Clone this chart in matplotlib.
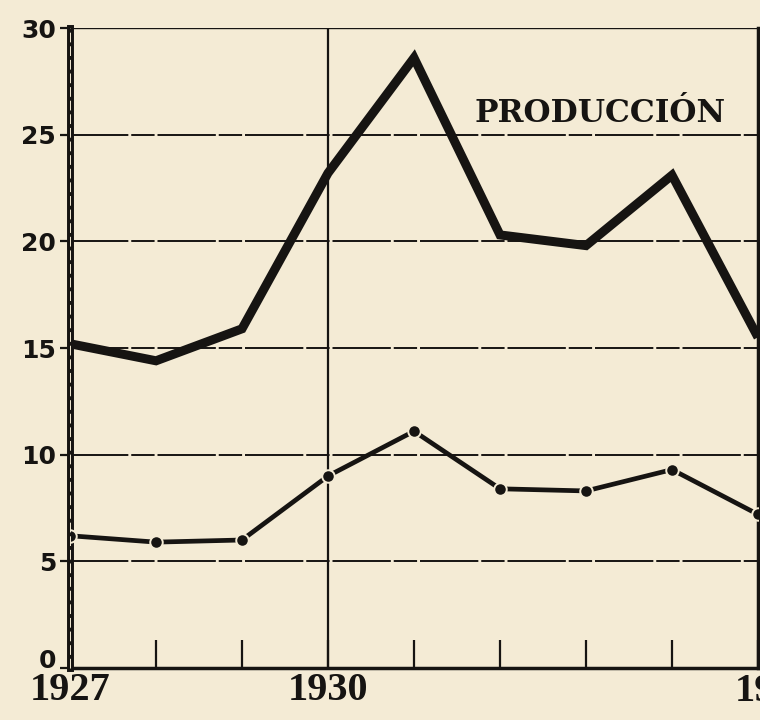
import matplotlib.pyplot as plt

# values
years = [1927, 1928, 1929, 1930, 1931, 1932, 1933, 1934, 1935]
produccion = [15.2, 14.4, 15.9, 23.2, 28.6, 20.3, 19.8, 23.1, 15.5]
segunda = [6.2, 5.9, 6.0, 9.0, 11.1, 8.4, 8.3, 9.3, 7.2]
yticks = [0, 5, 10, 15, 20, 25, 30]
year_labels = {1927: '1927', 1930: '1930'}

paper = '#f4ebd5'
ink = '#161412'

fig = plt.figure(figsize=(7.6, 7.2), dpi=100, facecolor=paper)
ax = fig.add_axes([70 / 760, 52 / 720, 688 / 760, 640 / 720], facecolor=paper)

ax.set_xlim(1927, 1935)
ax.set_ylim(0, 30)

# grid: nearly solid lines with small breaks, as drawn by hand
for y in yticks[1:]:
    ls = '-' if y == 30 else (0, (30, 1.5, 12, 1.5))
    ax.axhline(y, color=ink, lw=1.7 if y == 30 else 1.4, ls=ls, zorder=1)
ax.axvline(1930, color=ink, lw=1.6, zorder=1)

ax.plot(years, produccion, color=ink, lw=6.5, solid_joinstyle='miter',
        solid_capstyle='butt', zorder=3)
ax.plot(years, segunda, color=ink, lw=3.4, marker='o', ms=9,
        mfc=ink, mec=paper, mew=1.4, solid_capstyle='round', zorder=3)

ax.text(1931.7, 25.6, 'PRODUCCIÓN', family='DejaVu Serif', fontsize=22.5,
        fontweight='semibold', color=ink, ha='left', va='baseline')

ax.spines['top'].set_visible(False)
ax.spines['left'].set_linewidth(5)
ax.spines['right'].set_linewidth(2.5)
ax.spines['bottom'].set_linewidth(2.5)
for s in ax.spines.values():
    s.set_color(ink)
# double-ruled left edge
ax.axvline(1927, color=paper, lw=0.7, ls=(0, (10, 4)), zorder=4,
           clip_on=False)

ax.set_yticks(yticks)
ax.set_yticklabels([str(v) for v in yticks], family='DejaVu Sans',
                   fontweight='bold', fontsize=18, color=ink)
ax.tick_params(axis='y', direction='out', length=7, width=1.6, pad=3,
               colors=ink)
# the zero label sits on the axis line
ax.get_yticklabels()[0].set_va('baseline')

ax.set_xticks(years)
ax.set_xticklabels([year_labels.get(y, '') for y in years],
                   family='Liberation Serif', fontweight='bold', fontsize=29,
                   color=ink)
ax.tick_params(axis='x', direction='in', length=20, width=1.6, pad=3,
               colors=ink)

ax.text(1934.73, -0.25, '1935', family='Liberation Serif', fontweight='bold',
        fontsize=29, color=ink, ha='left', va='top', clip_on=False)

fig.savefig('out.png', dpi=100, facecolor=paper)
